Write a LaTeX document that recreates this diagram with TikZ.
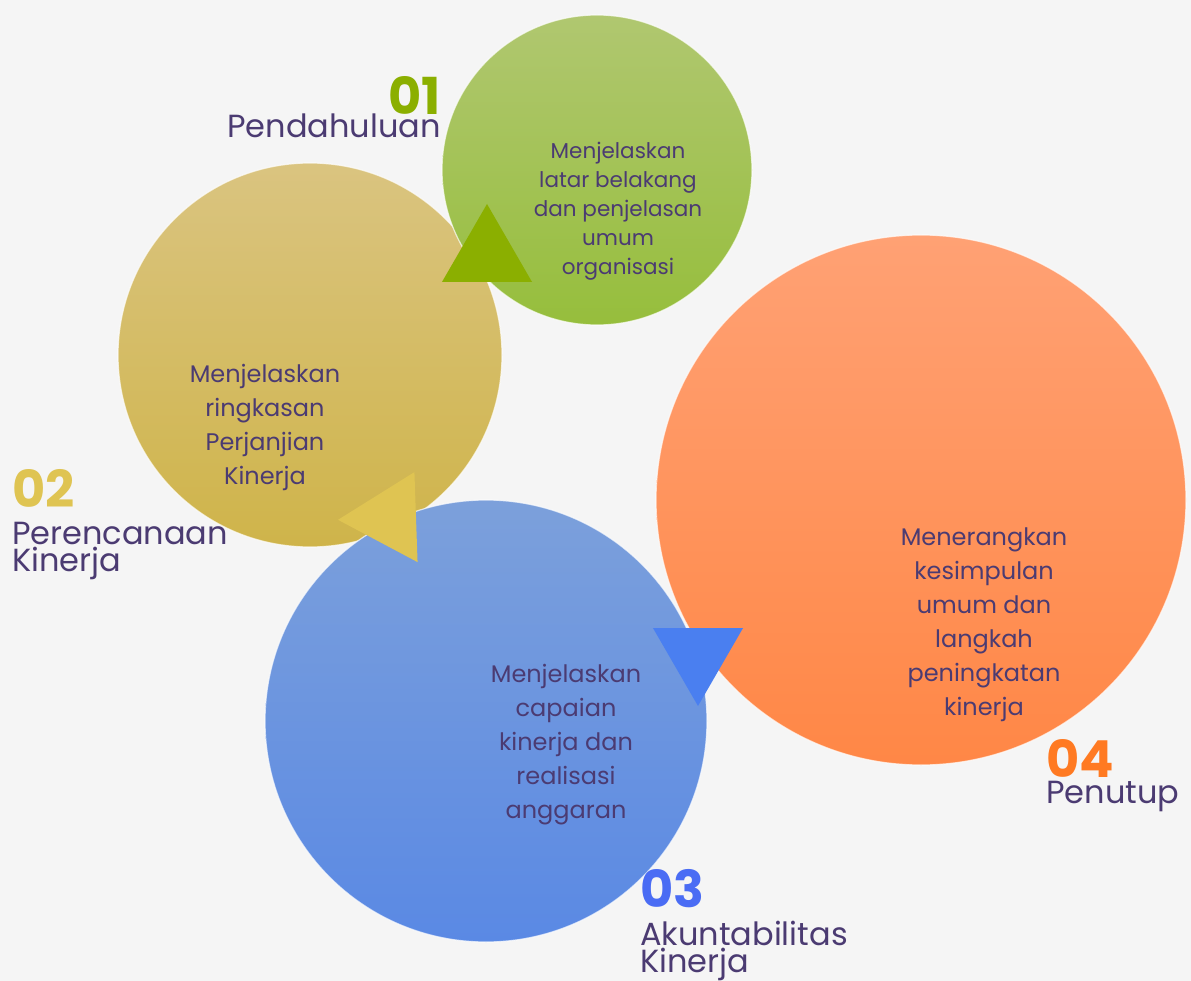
\documentclass[tikz,border=0pt]{standalone}
\usepackage{fontspec}
\setmainfont{Poppins}
\usepackage{tikz}
\usetikzlibrary{shapes.geometric}
\definecolor{bgpage}{HTML}{F5F5F5}
\definecolor{txtungu}{HTML}{4B3B72}
\definecolor{hijau}{HTML}{8BAF00}
\definecolor{kuning}{HTML}{DFC452}
\definecolor{biru}{HTML}{4A7FF0}
\definecolor{biruangka}{HTML}{4A6CF4}
\definecolor{oranye}{HTML}{FF7A22}
% warna gradasi lingkaran
\definecolor{hijauA}{RGB}{176,199,112}
\definecolor{hijauB}{RGB}{150,190,60}
\definecolor{kuningA}{RGB}{218,196,128}
\definecolor{kuningB}{RGB}{207,180,74}
\definecolor{biruA}{RGB}{124,160,219}
\definecolor{biruB}{RGB}{90,137,228}
\definecolor{oranyeA}{RGB}{255,161,116}
\definecolor{oranyeB}{RGB}{255,135,70}

\begin{document}
\begin{tikzpicture}[x=1pt,y=-1pt,
  bulat/.style={circle,inner sep=0pt,draw=white,line width=1.2pt,draw opacity=0.7,shading angle=12},
  isi/.style={align=center,text=txtungu,font=\fontsize{24}{34}\selectfont},
  angka/.style={inner sep=0pt,font=\fontsize{51}{51}\selectfont\bfseries},
  judul/.style={inner sep=0pt,align=left,text=txtungu,font=\fontsize{32}{26.5}\selectfont},
  segitiga/.style={regular polygon,regular polygon sides=3,inner sep=0pt,minimum size=104pt}]
\fill[bgpage] (0,0) rectangle (1191,981);
\useasboundingbox (0,0) rectangle (1191,981);
% lingkaran
\node[bulat,minimum size=384pt,top color=kuningA,bottom color=kuningB] (c2) at (310,355) {};
\node[bulat,minimum size=310pt,top color=hijauA,bottom color=hijauB] (c1) at (597,170) {};
\node[bulat,minimum size=442pt,top color=biruA,bottom color=biruB] (c3) at (486,721) {};
\node[bulat,minimum size=530pt,top color=oranyeA,bottom color=oranyeB] (c4) at (921,500) {};
% segitiga
\node[segitiga,fill=hijau] (t1) at (487,256) {};
\node[segitiga,fill=kuning,rotate=92] (t2) at (390,518) {};
\node[segitiga,fill=biru,rotate=180] (t3) at (698,654) {};
% isi lingkaran
\node[isi,font=\fontsize{21.5}{29}\selectfont] (d1) at (618,211) {Menjelaskan\\latar belakang\\dan penjelasan\\umum\\organisasi};
\node[isi] (d2) at (265,427) {Menjelaskan\\ringkasan\\Perjanjian\\Kinerja};
\node[isi] (d3) at (566,745) {Menjelaskan\\capaian\\kinerja dan\\realisasi\\anggaran};
\node[isi] (d4) at (984,625) {Menerangkan\\kesimpulan\\umum dan\\langkah\\peningkatan\\kinerja};
% judul
\node[angka,text=hijau,anchor=base east] (n1) at (441,115) {01};
\node[judul,anchor=base east] (j1) at (441,138) {Pendahuluan};
\node[angka,text=kuning,anchor=base west] (n2) at (12,507) {02};
\node[judul,anchor=base west] (j2) at (12,571) {Perencanaan\\Kinerja};
\node[angka,text=biruangka,anchor=base west] (n3) at (640,907) {03};
\node[judul,anchor=base west] (j3) at (640,972) {Akuntabilitas\\Kinerja};
\node[angka,text=oranye,anchor=base west] (n4) at (1046,777) {04};
\node[judul,anchor=base west] (j4) at (1046,803) {Penutup};
\end{tikzpicture}
\end{document}
